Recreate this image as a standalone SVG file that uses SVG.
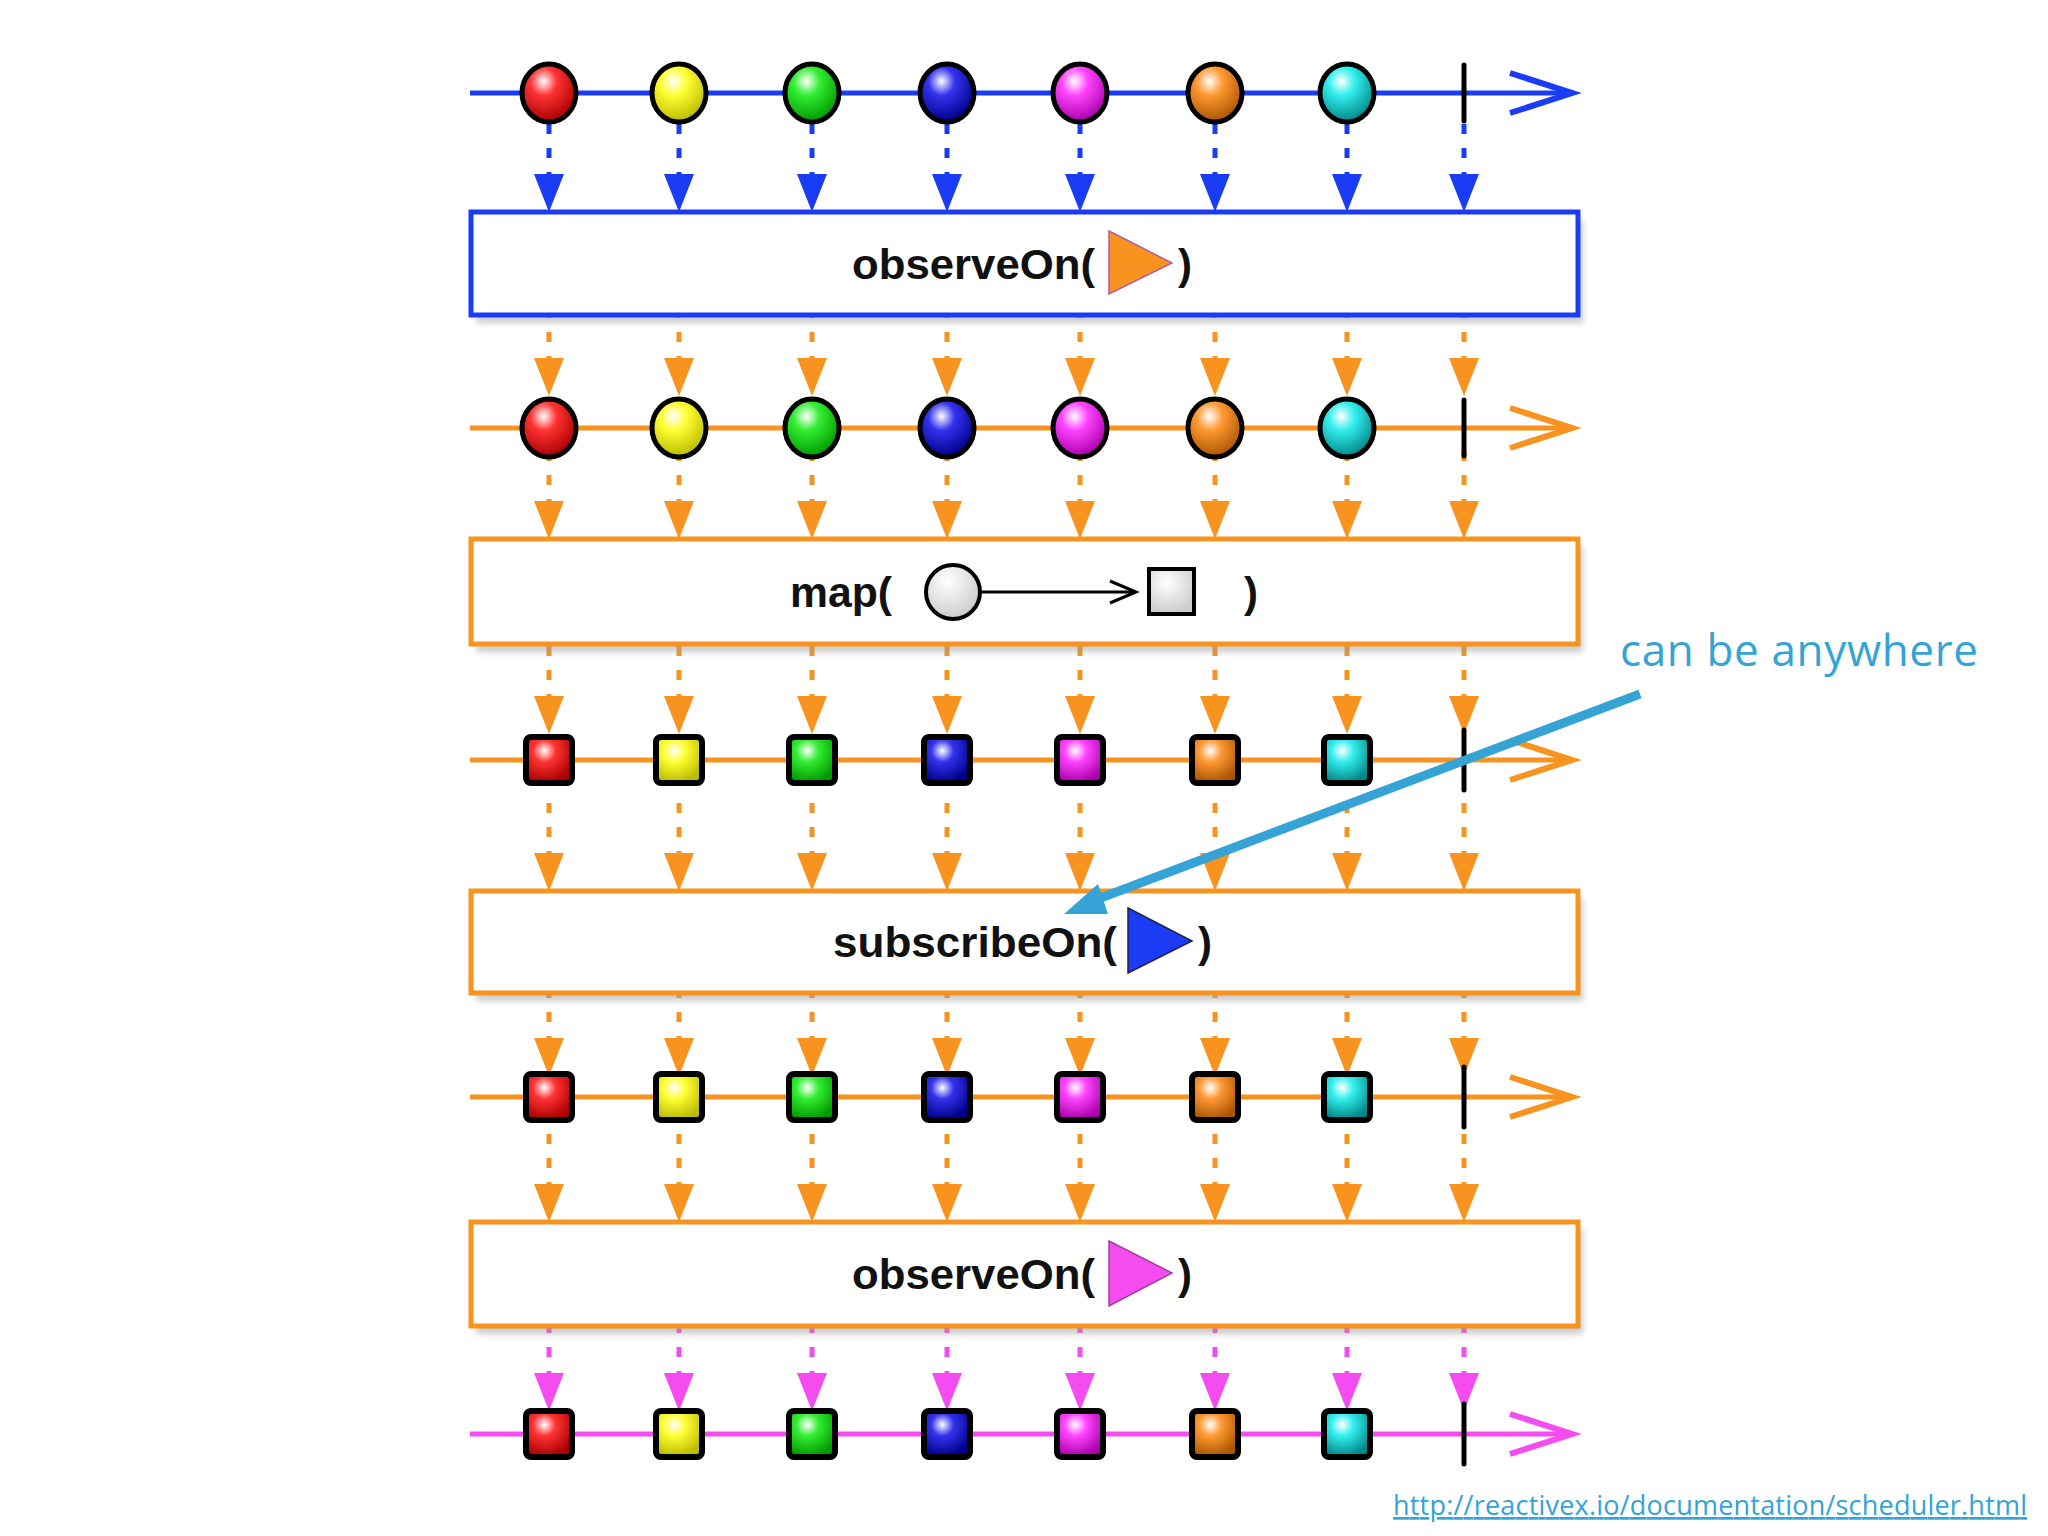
<svg xmlns="http://www.w3.org/2000/svg" xmlns:xlink="http://www.w3.org/1999/xlink" width="2048" height="1536" viewBox="0 0 2048 1536">
<style>
.box{fill:#fff;stroke-width:5}
.lbl{font-family:"Liberation Sans",Arial,sans-serif;font-weight:bold;font-size:42px;fill:#111}
.ball{stroke:#000;stroke-width:5}
.sq{stroke:#000;stroke-width:6}
.bar{stroke:#000;stroke-width:5;stroke-linecap:round}
.sh{fill:#999;opacity:0.5}
</style>
<defs>
<filter id="blur" x="-10%" y="-10%" width="120%" height="140%"><feGaussianBlur stdDeviation="3"/></filter>
<radialGradient id="gR" cx="0.4" cy="0.3" r="0.7"><stop offset="0" stop-color="#fff"/><stop offset="0.35" stop-color="#f33"/><stop offset="1" stop-color="#a00"/></radialGradient>
<radialGradient id="gY" cx="0.4" cy="0.3" r="0.7"><stop offset="0" stop-color="#fff"/><stop offset="0.35" stop-color="#ff3"/><stop offset="1" stop-color="#bb0"/></radialGradient>
<radialGradient id="gG" cx="0.4" cy="0.3" r="0.7"><stop offset="0" stop-color="#fff"/><stop offset="0.35" stop-color="#3e3"/><stop offset="1" stop-color="#090"/></radialGradient>
<radialGradient id="gB" cx="0.4" cy="0.3" r="0.7"><stop offset="0" stop-color="#fff"/><stop offset="0.35" stop-color="#33e"/><stop offset="1" stop-color="#008"/></radialGradient>
<radialGradient id="gM" cx="0.4" cy="0.3" r="0.7"><stop offset="0" stop-color="#fff"/><stop offset="0.35" stop-color="#f4f"/><stop offset="1" stop-color="#a0a"/></radialGradient>
<radialGradient id="gO" cx="0.4" cy="0.3" r="0.7"><stop offset="0" stop-color="#fff"/><stop offset="0.35" stop-color="#f93"/><stop offset="1" stop-color="#a50"/></radialGradient>
<radialGradient id="gC" cx="0.4" cy="0.3" r="0.7"><stop offset="0" stop-color="#fff"/><stop offset="0.35" stop-color="#3ee"/><stop offset="1" stop-color="#088"/></radialGradient>
<radialGradient id="gW" cx="0.4" cy="0.3" r="0.7"><stop offset="0" stop-color="#fff"/><stop offset="1" stop-color="#ccc"/></radialGradient>
<g id="aB"><line x1="0" y1="0" x2="0" y2="52" stroke="#1a3cf5" stroke-width="5" stroke-dasharray="10,14"/><polygon points="-15,50 15,50 0,88" fill="#1a3cf5"/></g>
<g id="aO"><line x1="0" y1="0" x2="0" y2="52" stroke="#f7931e" stroke-width="5" stroke-dasharray="10,14"/><polygon points="-15,50 15,50 0,88" fill="#f7931e"/></g>
<g id="aM"><line x1="0" y1="0" x2="0" y2="52" stroke="#f54cf0" stroke-width="5" stroke-dasharray="10,14"/><polygon points="-15,50 15,50 0,88" fill="#f54cf0"/></g>
<g id="balls">
<ellipse class="ball" cx="549" cy="0" rx="27" ry="29" fill="url(#gR)"/>
<ellipse class="ball" cx="679" cy="0" rx="27" ry="29" fill="url(#gY)"/>
<ellipse class="ball" cx="812" cy="0" rx="27" ry="29" fill="url(#gG)"/>
<ellipse class="ball" cx="947" cy="0" rx="27" ry="29" fill="url(#gB)"/>
<ellipse class="ball" cx="1080" cy="0" rx="27" ry="29" fill="url(#gM)"/>
<ellipse class="ball" cx="1215" cy="0" rx="27" ry="29" fill="url(#gO)"/>
<ellipse class="ball" cx="1347" cy="0" rx="27" ry="29" fill="url(#gC)"/>
<line class="bar" x1="1464" y1="-28" x2="1464" y2="28"/>
</g>
<g id="sqs">
<rect class="sq" x="526" y="-23" width="46" height="46" rx="5" fill="url(#gR)"/>
<rect class="sq" x="656" y="-23" width="46" height="46" rx="5" fill="url(#gY)"/>
<rect class="sq" x="789" y="-23" width="46" height="46" rx="5" fill="url(#gG)"/>
<rect class="sq" x="924" y="-23" width="46" height="46" rx="5" fill="url(#gB)"/>
<rect class="sq" x="1057" y="-23" width="46" height="46" rx="5" fill="url(#gM)"/>
<rect class="sq" x="1192" y="-23" width="46" height="46" rx="5" fill="url(#gO)"/>
<rect class="sq" x="1324" y="-23" width="46" height="46" rx="5" fill="url(#gC)"/>
<line class="bar" x1="1464" y1="-30" x2="1464" y2="30"/>
</g>
</defs>

<g id="connectors">
<g transform="translate(0,124)"><use href="#aB" x="549"/><use href="#aB" x="679"/><use href="#aB" x="812"/><use href="#aB" x="947"/><use href="#aB" x="1080"/><use href="#aB" x="1215"/><use href="#aB" x="1347"/><use href="#aB" x="1464"/></g>
<g transform="translate(0,308)"><use href="#aO" x="549"/><use href="#aO" x="679"/><use href="#aO" x="812"/><use href="#aO" x="947"/><use href="#aO" x="1080"/><use href="#aO" x="1215"/><use href="#aO" x="1347"/><use href="#aO" x="1464"/></g>
<g transform="translate(0,451)"><use href="#aO" x="549"/><use href="#aO" x="679"/><use href="#aO" x="812"/><use href="#aO" x="947"/><use href="#aO" x="1080"/><use href="#aO" x="1215"/><use href="#aO" x="1347"/><use href="#aO" x="1464"/></g>
<g transform="translate(0,646)"><use href="#aO" x="549"/><use href="#aO" x="679"/><use href="#aO" x="812"/><use href="#aO" x="947"/><use href="#aO" x="1080"/><use href="#aO" x="1215"/><use href="#aO" x="1347"/><use href="#aO" x="1464"/></g>
<g transform="translate(0,803)"><use href="#aO" x="549"/><use href="#aO" x="679"/><use href="#aO" x="812"/><use href="#aO" x="947"/><use href="#aO" x="1080"/><use href="#aO" x="1215"/><use href="#aO" x="1347"/><use href="#aO" x="1464"/></g>
<g transform="translate(0,988)"><use href="#aO" x="549"/><use href="#aO" x="679"/><use href="#aO" x="812"/><use href="#aO" x="947"/><use href="#aO" x="1080"/><use href="#aO" x="1215"/><use href="#aO" x="1347"/><use href="#aO" x="1464"/></g>
<g transform="translate(0,1134)"><use href="#aO" x="549"/><use href="#aO" x="679"/><use href="#aO" x="812"/><use href="#aO" x="947"/><use href="#aO" x="1080"/><use href="#aO" x="1215"/><use href="#aO" x="1347"/><use href="#aO" x="1464"/></g>
<g transform="translate(0,1323)"><use href="#aM" x="549"/><use href="#aM" x="679"/><use href="#aM" x="812"/><use href="#aM" x="947"/><use href="#aM" x="1080"/><use href="#aM" x="1215"/><use href="#aM" x="1347"/><use href="#aM" x="1464"/></g>
</g>

<g id="timeline1">
<line x1="470" y1="93" x2="1570" y2="93" stroke="#1a3cf5" stroke-width="5"/>
<polyline points="1510,73 1572,93 1510,113" fill="none" stroke="#1a3cf5" stroke-width="6"/>
<use href="#balls" y="93"/>
</g>
<g id="box1">
<rect class="sh" x="476" y="220" width="1107" height="103" filter="url(#blur)"/>
<rect class="box" x="471" y="212" width="1107" height="103" stroke="#1a3cf5"/>
<text class="lbl" x="852" y="279" textLength="243" lengthAdjust="spacingAndGlyphs">observeOn(</text>
<polygon points="1109,231 1172,263 1109,294" fill="#f7931e" stroke="#b05fa0" stroke-width="1.5"/>
<text class="lbl" x="1178" y="279">)</text>
</g>
<g id="timeline2">
<line x1="470" y1="428" x2="1570" y2="428" stroke="#f7931e" stroke-width="5"/>
<polyline points="1510,408 1572,428 1510,448" fill="none" stroke="#f7931e" stroke-width="6"/>
<use href="#balls" y="428"/>
</g>
<g id="box2">
<rect class="sh" x="476" y="547" width="1107" height="105" filter="url(#blur)"/>
<rect class="box" x="471" y="539" width="1107" height="105" stroke="#f7931e"/>
<text class="lbl" x="790" y="607" textLength="102" lengthAdjust="spacingAndGlyphs">map(</text>
<circle cx="953" cy="592" r="27" fill="url(#gW)" stroke="#000" stroke-width="4"/>
<line x1="980" y1="592" x2="1132" y2="592" stroke="#000" stroke-width="3"/>
<polyline points="1110,581 1136,592 1110,603" fill="none" stroke="#000" stroke-width="3"/>
<rect x="1149" y="569" width="45" height="45" fill="url(#gW)" stroke="#000" stroke-width="4"/>
<text class="lbl" x="1244" y="607">)</text>
</g>
<g id="timeline3">
<line x1="470" y1="760" x2="1570" y2="760" stroke="#f7931e" stroke-width="5"/>
<polyline points="1510,740 1572,760 1510,780" fill="none" stroke="#f7931e" stroke-width="6"/>
<use href="#sqs" y="760"/>
</g>
<g id="box3">
<rect class="sh" x="476" y="899" width="1107" height="102" filter="url(#blur)"/>
<rect class="box" x="471" y="891" width="1107" height="102" stroke="#f7931e"/>
<text class="lbl" x="833" y="957" textLength="284" lengthAdjust="spacingAndGlyphs">subscribeOn(</text>
<polygon points="1128,908 1192,941 1128,973" fill="#1a3cf5" stroke="#224" stroke-width="1.5"/>
<text class="lbl" x="1198" y="957">)</text>
</g>
<g id="timeline4">
<line x1="470" y1="1097" x2="1570" y2="1097" stroke="#f7931e" stroke-width="5"/>
<polyline points="1510,1077 1572,1097 1510,1117" fill="none" stroke="#f7931e" stroke-width="6"/>
<use href="#sqs" y="1097"/>
</g>
<g id="box4">
<rect class="sh" x="476" y="1230" width="1107" height="104" filter="url(#blur)"/>
<rect class="box" x="471" y="1222" width="1107" height="104" stroke="#f7931e"/>
<text class="lbl" x="852" y="1289" textLength="243" lengthAdjust="spacingAndGlyphs">observeOn(</text>
<polygon points="1109,1241 1172,1273 1109,1306" fill="#f54cf0" stroke="#a040a0" stroke-width="1.5"/>
<text class="lbl" x="1178" y="1289">)</text>
</g>
<g id="timeline5">
<line x1="470" y1="1434" x2="1570" y2="1434" stroke="#f54cf0" stroke-width="5"/>
<polyline points="1510,1414 1572,1434 1510,1454" fill="none" stroke="#f54cf0" stroke-width="6"/>
<use href="#sqs" y="1434"/>
</g>
<g id="annotation">
<line x1="1640" y1="694" x2="1090" y2="902" stroke="#35a3d5" stroke-width="9"/>
<polygon points="1064,914 1098,884 1108,914" fill="#35a3d5"/>
<text x="1620" y="666" font-family="'Open Sans','Noto Sans',sans-serif" font-size="44" fill="#35a3d5" textLength="358">can be anywhere</text>
</g>
<g id="link">
<text x="1393" y="1515" font-family="'Open Sans','Noto Sans',sans-serif" font-size="27" fill="#35a3d5" text-decoration="underline" textLength="634">http://reactivex.io/documentation/scheduler.html</text>
</g>
</svg>
